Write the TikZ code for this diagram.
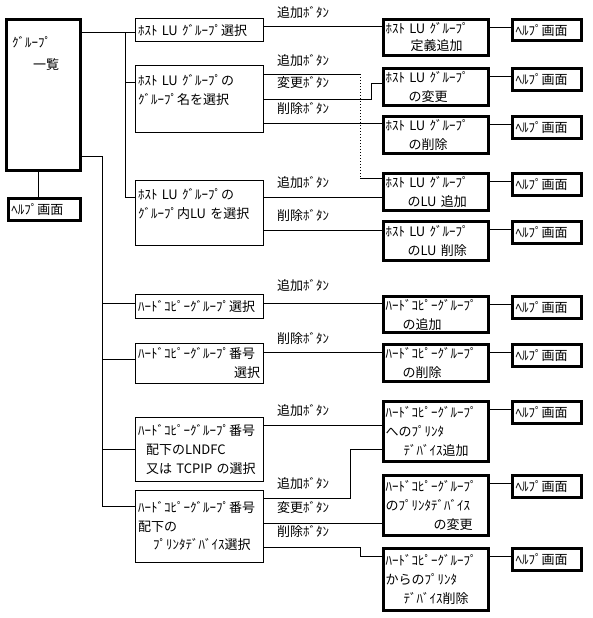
\documentclass[tikz,border=0pt]{standalone}
\usepackage{fontspec}
\newfontfamily\jpfont[WordSpace=2.2]{Noto Sans CJK JP}
\usetikzlibrary{positioning}
\tikzset{boxStyle/.style={
    draw,
    line width=1pt,
    outer sep=0pt,
    inner xsep=3pt,
    inner ysep=0pt,
    text width=122pt,
    align=left,
    anchor=north west,
    font=\jpfont\fontsize{13}{19}\selectfont}
}
\tikzset{thickBoxStyle/.style={boxStyle, line width=3pt, inner xsep=2pt, text width=101pt}}
\tikzset{helpStyle/.style={boxStyle, line width=3pt, text width=63pt, minimum height=21.5pt}}
\tikzset{textStyle/.style={align=left, inner sep=0pt, font=\jpfont\fontsize{13}{19}\selectfont}}
\tikzset{btnStyle/.style={anchor=west, inner sep=0pt, font=\jpfont\fontsize{13}{19}\selectfont}}
\tikzset{lineStyle/.style={line width=1pt}}

\begin{document}
\begin{tikzpicture}[x=1pt,y=-1pt]
      \useasboundingbox (0,0) rectangle (593,618);

      %\draw[help lines] (0,0) grid (593,618);
      \node[draw, line width=3pt, outer sep=0pt, anchor=north west,
      minimum width=74pt, minimum height=151pt] (grp) at (6.5,19.5) {};
      \node[textStyle, anchor=base west] (grpTxt)
      at ([xshift=5.5,yshift=-50.5]grp.north west) {ｸﾞﾙｰﾌﾟ\\[3pt]\hspace*{21pt}一覧};
      \node[helpStyle, text width=66pt] (grpHelp) at (8.5,198.5) {ﾍﾙﾌﾟ画面};
      \draw[lineStyle] ([xshift=-5.5]grp.south) -- ([xshift=-5.5]grp.south |- grpHelp.north);

      % host LU groups
      \node[boxStyle, minimum height=23] (hostSel) at (135,19) {ﾎｽﾄ LU ｸﾞﾙｰﾌﾟ選択};
      \node[boxStyle, minimum height=66] (hostName) at (135,66) {ﾎｽﾄ LU ｸﾞﾙｰﾌﾟの\\ｸﾞﾙｰﾌﾟ名を選択\\\mbox{}};
      \node[boxStyle, minimum height=65] (hostLu) at (135,180) {ﾎｽﾄ LU ｸﾞﾙｰﾌﾟの\\ｸﾞﾙｰﾌﾟ内LU を選択\\\mbox{}};

      % hard copy groups
      \node[boxStyle, minimum height=24] (copySel) at (135,294) {ﾊｰﾄﾞｺﾋﾟｰｸﾞﾙｰﾌﾟ選択};
      \node[boxStyle, minimum height=40] (copyNo) at (135,343) {ﾊｰﾄﾞｺﾋﾟｰｸﾞﾙｰﾌﾟ番号\\\hspace*{\fill}選択\hspace*{3pt}};
      \node[boxStyle, minimum height=64] (copyDev) at (135,417) {ﾊｰﾄﾞｺﾋﾟｰｸﾞﾙｰﾌﾟ番号\\\hspace*{8pt}配下のLNDFC\\\hspace*{8pt}又は TCPIP の選択};
      \node[boxStyle, minimum height=72] (copyPrn) at (135,490) {ﾊｰﾄﾞｺﾋﾟｰｸﾞﾙｰﾌﾟ番号\\配下の\\[-1pt]\hspace*{15pt}ﾌﾟﾘﾝﾀﾃﾞﾊﾞｲｽ選択};

      % screens
      \node[thickBoxStyle, minimum height=36] (hostAdd) at (383.5,19.5) {ﾎｽﾄ LU ｸﾞﾙｰﾌﾟ\\[-2pt]\hspace*{25pt}定義追加};
      \node[thickBoxStyle, minimum height=37] (hostChg) at (383.5,68.5) {ﾎｽﾄ LU ｸﾞﾙｰﾌﾟ\\\hspace*{23pt}の変更};
      \node[thickBoxStyle, minimum height=37] (hostDel) at (383.5,116.5) {ﾎｽﾄ LU ｸﾞﾙｰﾌﾟ\\\hspace*{23pt}の削除};
      \node[thickBoxStyle, minimum height=37] (hostLuAdd) at (383.5,173.5) {ﾎｽﾄ LU ｸﾞﾙｰﾌﾟ\\\hspace*{22pt}のLU 追加};
      \node[thickBoxStyle, minimum height=39] (hostLuDel) at (383.5,221.5) {ﾎｽﾄ LU ｸﾞﾙｰﾌﾟ\\\hspace*{22pt}のLU 削除};
      \node[thickBoxStyle, minimum height=36] (copyAdd) at (383.5,296.5) {ﾊｰﾄﾞｺﾋﾟｰｸﾞﾙｰﾌﾟ\\\hspace*{17pt}の追加};
      \node[thickBoxStyle, minimum height=37] (copyDel) at (383.5,344.5) {ﾊｰﾄﾞｺﾋﾟｰｸﾞﾙｰﾌﾟ\\\hspace*{17pt}の削除};
      \node[thickBoxStyle, minimum height=60] (prnAdd) at (383.5,401.5) {ﾊｰﾄﾞｺﾋﾟｰｸﾞﾙｰﾌﾟ\\へのﾌﾟﾘﾝﾀ\\\hspace*{18pt}ﾃﾞﾊﾞｲｽ追加};
      \node[thickBoxStyle, minimum height=60] (prnChg) at (383.5,475.5) {ﾊｰﾄﾞｺﾋﾟｰｸﾞﾙｰﾌﾟ\\のﾌﾟﾘﾝﾀﾃﾞﾊﾞｲｽ\\\hspace*{48pt}の変更};
      \node[thickBoxStyle, minimum height=62] (prnDel) at (383.5,548.5) {ﾊｰﾄﾞｺﾋﾟｰｸﾞﾙｰﾌﾟ\\からのﾌﾟﾘﾝﾀ\\\hspace*{18pt}ﾃﾞﾊﾞｲｽ削除};

      % help screens
      \node[helpStyle, right=24pt of hostAdd.north east, anchor=north west] (helpA) {ﾍﾙﾌﾟ画面};
      \node[helpStyle, right=24pt of hostChg.north east, anchor=north west] (helpB) {ﾍﾙﾌﾟ画面};
      \node[helpStyle, right=24pt of hostDel.north east, anchor=north west] (helpC) {ﾍﾙﾌﾟ画面};
      \node[helpStyle, right=24pt of hostLuAdd.north east, anchor=north west] (helpD) {ﾍﾙﾌﾟ画面};
      \node[helpStyle, right=24pt of hostLuDel.north east, anchor=north west] (helpE) {ﾍﾙﾌﾟ画面};
      \node[helpStyle, right=24pt of copyAdd.north east, anchor=north west] (helpF) {ﾍﾙﾌﾟ画面};
      \node[helpStyle, right=24pt of copyDel.north east, anchor=north west] (helpG) {ﾍﾙﾌﾟ画面};
      \node[helpStyle, right=24pt of prnAdd.north east, anchor=north west] (helpH) {ﾍﾙﾌﾟ画面};
      \node[helpStyle, right=24pt of prnChg.north east, anchor=north west] (helpI) {ﾍﾙﾌﾟ画面};
      \node[helpStyle, right=24pt of prnDel.north east, anchor=north west] (helpJ) {ﾍﾙﾌﾟ画面};

      \draw[lineStyle] ([yshift=3]helpA.west -| hostAdd.east) -- ([yshift=3]helpA.west);
      \draw[lineStyle] ([yshift=3]helpB.west -| hostChg.east) -- ([yshift=3]helpB.west);
      \draw[lineStyle] ([yshift=3]helpC.west -| hostDel.east) -- ([yshift=3]helpC.west);
      \draw[lineStyle] ([yshift=3]helpD.west -| hostLuAdd.east) -- ([yshift=3]helpD.west);
      \draw[lineStyle] ([yshift=3]helpE.west -| hostLuDel.east) -- ([yshift=3]helpE.west);
      \draw[lineStyle] ([yshift=3]helpF.west -| copyAdd.east) -- ([yshift=3]helpF.west);
      \draw[lineStyle] ([yshift=3]helpG.west -| copyDel.east) -- ([yshift=3]helpG.west);
      \draw[lineStyle] ([yshift=3]helpH.west -| prnAdd.east) -- ([yshift=3]helpH.west);
      \draw[lineStyle] ([yshift=3]helpI.west -| prnChg.east) -- ([yshift=3]helpI.west);
      \draw[lineStyle] ([yshift=3]helpJ.west -| prnDel.east) -- ([yshift=3]helpJ.west);

      % tree from the group list
      \coordinate (busA) at (125,33);
      \coordinate (busB) at (125,82);
      \coordinate (busC) at (125,197);
      \draw[lineStyle] (grp.east |- busA) -- (busA -| hostSel.west);
      \draw[lineStyle] (busA) -- (busC) -- (busC -| hostLu.west);
      \draw[lineStyle] (busB) -- (busB -| hostName.west);

      \coordinate (busD) at (102,156);
      \coordinate (busE) at (102,506);
      \draw[lineStyle] (grp.east |- busD) -- (busD) -- (busE) -- (busE -| copyPrn.west);
      \draw[lineStyle] (busD |- 0,303) -- (copySel.west |- 0,303);
      \draw[lineStyle] (busD |- 0,359) -- (copyNo.west |- 0,359);
      \draw[lineStyle] (busD |- copyDev.west) -- (copyDev.west);

      % buttons
      \draw[lineStyle] (hostSel.east |- 0,27) -- (hostAdd.west |- 0,27);
      \coordinate (dotA) at (360,74);
      \coordinate (dotB) at (360,178);
      \draw[lineStyle] (hostName.east |- dotA) -- (dotA);
      \draw[lineStyle, dotted] (dotA) -- (dotB);
      \draw[lineStyle] (dotB) -- (dotB -| hostLuAdd.west);
      \coordinate (chgA) at (371,99);
      \coordinate (chgB) at (371,83);
      \draw[lineStyle] (hostName.east |- chgA) -- (chgA) -- (chgB) -- (chgB -| hostChg.west);
      \draw[lineStyle] (hostName.east |- 0,123) -- (hostDel.west |- 0,123);
      \draw[lineStyle] (hostLu.east |- 0,197) -- (hostLuAdd.west |- 0,197);
      \draw[lineStyle] (hostLu.east |- 0,230) -- (hostLuDel.west |- 0,230);
      \draw[lineStyle] (copySel.east |- 0,303) -- (copyAdd.west |- 0,303);
      \draw[lineStyle] (copyNo.east |- 0,352) -- (copyDel.west |- 0,352);
      \draw[lineStyle] (copyDev.east |- 0,425) -- (prnAdd.west |- 0,425);
      \coordinate (prnA) at (350,498);
      \coordinate (prnB) at (350,449);
      \draw[lineStyle] (copyPrn.east |- prnA) -- (prnA) -- (prnB) -- (prnB -| prnAdd.west);
      \draw[lineStyle] (copyPrn.east |- 0,523) -- (prnChg.west |- 0,523);
      \coordinate (delA) at (360,547);
      \coordinate (delB) at (360,556);
      \draw[lineStyle] (copyPrn.east |- delA) -- (delA) -- (delB) -- (delB -| prnDel.west);

      \node[btnStyle] (addBtnA) at (277,12) {追加ﾎﾞﾀﾝ};
      \node[btnStyle] (addBtnB) at (277,60) {追加ﾎﾞﾀﾝ};
      \node[btnStyle] (chgBtnA) at (277,82) {変更ﾎﾞﾀﾝ};
      \node[btnStyle] (delBtnA) at (277,108) {削除ﾎﾞﾀﾝ};
      \node[btnStyle] (addBtnC) at (277,182) {追加ﾎﾞﾀﾝ};
      \node[btnStyle] (delBtnB) at (277,215) {削除ﾎﾞﾀﾝ};
      \node[btnStyle] (addBtnD) at (277,285) {追加ﾎﾞﾀﾝ};
      \node[btnStyle] (delBtnC) at (277,338) {削除ﾎﾞﾀﾝ};
      \node[btnStyle] (addBtnE) at (277,410) {追加ﾎﾞﾀﾝ};
      \node[btnStyle] (addBtnF) at (277,483) {追加ﾎﾞﾀﾝ};
      \node[btnStyle] (chgBtnB) at (277,507) {変更ﾎﾞﾀﾝ};
      \node[btnStyle] (delBtnD) at (277,531) {削除ﾎﾞﾀﾝ};
\end{tikzpicture}
\end{document}
